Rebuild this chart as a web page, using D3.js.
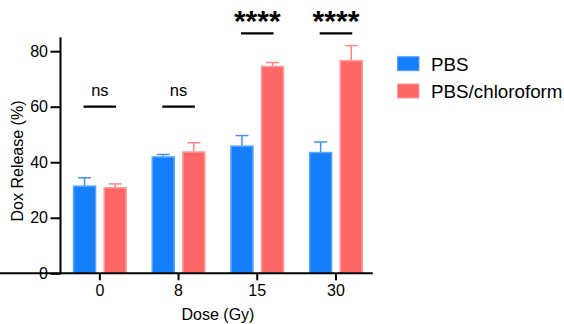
<!DOCTYPE html>
<html><head><meta charset="utf-8">
<script src="https://cdn.jsdelivr.net/npm/d3@7"></script>
<style>body{margin:0;background:#fff}svg{display:block;font-family:"Liberation Sans",Arial,Helvetica,sans-serif}</style>
</head><body><svg id="c" width="564" height="324"></svg>
<script>
const categories = ["0", "8", "15", "30"];
const series = ["PBS", "PBS/chloroform"];
const pbsMean = [31.4, 41.9, 45.8, 43.5];
const pbsErr = [3.0, 0.9, 3.8, 3.8];
const chlMean = [30.8, 43.7, 74.5, 76.6];
const chlErr = [1.4, 3.3, 1.4, 5.4];
const yTicks = [0, 20, 40, 60, 80];
const sigLabels = ["ns", "ns", "****", "****"];
const sigLevel = [60, 60, 86.4, 86.4];

const fills = ["#147efb", "#ff6666"];
const strokes = ["#5aa6ff", "#ff9c9c"];
const errCols = ["#3d93fb", "#ff8585"];

const svg = d3.select("#c");
const y = d3.scaleLinear().domain([0, 85]).range([273.3, 37.3]);
const x0 = d3.scaleBand().domain(categories).range([60.5, 375.3]).padding(0);
const x1 = d3.scaleBand().domain(series).range([-27.05, 27.05]).paddingInner(0.232).paddingOuter(0);

const data = categories.map((c, i) => ({c, vals: [
  {s: series[0], m: pbsMean[i], e: pbsErr[i], k: 0},
  {s: series[1], m: chlMean[i], e: chlErr[i], k: 1}
]}));

const g = svg.append("g");
const grp = g.selectAll("g.grp").data(data).join("g")
  .attr("transform", d => `translate(${x0(d.c) + x0.bandwidth()/2},0)`);

// error bars
grp.selectAll("g.err").data(d => d.vals).join("g").each(function(d){
  const cx = x1(d.s) + x1.bandwidth()/2;
  const s = d3.select(this);
  s.append("line").attr("x1", cx).attr("x2", cx).attr("y1", y(d.m)).attr("y2", y(d.m + d.e))
    .attr("stroke", errCols[d.k]).attr("stroke-width", 1.5);
  s.append("line").attr("x1", cx - 6.5).attr("x2", cx + 6.5).attr("y1", y(d.m + d.e)).attr("y2", y(d.m + d.e))
    .attr("stroke", errCols[d.k]).attr("stroke-width", 1.5);
});

grp.selectAll("rect").data(d => d.vals).join("rect")
  .attr("x", d => x1(d.s) + 0.75)
  .attr("width", x1.bandwidth() - 1.5)
  .attr("y", d => y(d.m))
  .attr("height", d => y(0) - y(d.m))
  .attr("fill", d => fills[d.k])
  .attr("stroke", d => strokes[d.k])
  .attr("stroke-width", 1.5);

// significance
grp.each(function(d, i){
  const s = d3.select(this);
  const xa = x1(series[0]) + x1.bandwidth()/2, xb = x1(series[1]) + x1.bandwidth()/2;
  s.append("line").attr("x1", xa - 1).attr("x2", xb + 1).attr("y1", y(sigLevel[i])).attr("y2", y(sigLevel[i]))
    .attr("stroke", "#000").attr("stroke-width", 2.2);
  const isStar = sigLabels[i].startsWith("*");
  s.append("text").attr("x", (xa + xb)/2).attr("y", y(sigLevel[i]) + (isStar ? -2 : -11))
    .attr("text-anchor", "middle")
    .attr("font-size", isStar ? 30 : 16.5)
    .attr("font-weight", isStar ? "bold" : "normal")
    .text(sigLabels[i]);
});

// axes
const yAxis = svg.append("g").attr("transform", "translate(60.5,0)")
  .call(d3.axisLeft(y).tickValues(yTicks).tickSize(10).tickPadding(2.5).tickSizeOuter(0));
const xAxis = svg.append("g").attr("transform", `translate(0,${y(0)})`)
  .call(d3.axisBottom(x0).tickSize(7).tickPadding(4).tickSizeOuter(0));
[yAxis, xAxis].forEach(a => {
  a.select(".domain").attr("stroke", "#000").attr("stroke-width", 2);
  a.selectAll(".tick line").attr("stroke", "#000").attr("stroke-width", 2);
  a.selectAll(".tick text").attr("fill", "#000").attr("font-size", 16).attr("font-family", null);
});
yAxis.select(".domain").attr("d", `M0,${y(0) + 1}V${y(85)}`);
xAxis.select(".domain").attr("d", `M-1,0H372.7`);

svg.append("text").attr("transform", `translate(22.5,161) rotate(-90)`)
  .attr("text-anchor", "middle").attr("font-size", 16).text("Dox Release (%)");
svg.append("text").attr("x", 218).attr("y", 319.5).attr("text-anchor", "middle")
  .attr("font-size", 16).text("Dose (Gy)");

// legend
const lg = svg.append("g").attr("transform", "translate(397.5,56.7)");
series.forEach((s, i) => {
  lg.append("rect").attr("x", 0).attr("y", i * 27.3).attr("width", 21.5).attr("height", 14)
    .attr("fill", fills[i]).attr("stroke", strokes[i]).attr("stroke-width", 1);
  lg.append("text").attr("x", 33.5).attr("y", i * 27.3 + 13.8).attr("font-size", 18.8).text(s);
});
</script></body></html>
